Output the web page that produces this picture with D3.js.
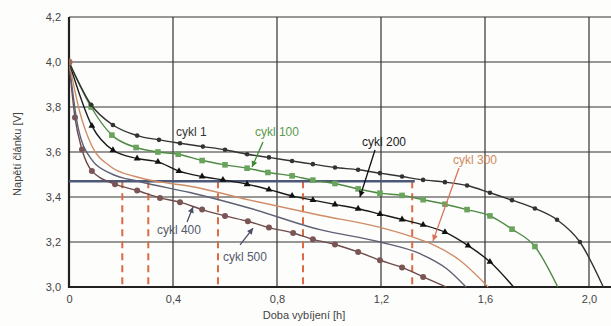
<!DOCTYPE html>
<html><head><meta charset="utf-8">
<script src="https://cdn.jsdelivr.net/npm/d3@7"></script>
<style>body{margin:0;background:#fff}svg{display:block}text{font-family:"Liberation Sans",Arial,sans-serif}</style>
</head><body><div id="chart"></div>
<script>
// ---- data ----
const xTicks = [0, 0.4, 0.8, 1.2, 1.6, 2.0];
const yTicks = [3.0, 3.2, 3.4, 3.6, 3.8, 4.0, 4.2];

const c1T = [0, 0.085, 0.169, 0.262, 0.346, 0.427, 0.515, 0.6, 0.685, 0.769, 0.858, 0.938, 1.023, 1.112, 1.196, 1.281, 1.362, 1.446, 1.531, 1.619, 1.704, 1.792, 1.877, 1.965, 2.055];
const c1V = [4.0, 3.81, 3.72, 3.673, 3.654, 3.639, 3.624, 3.61, 3.59, 3.576, 3.56, 3.546, 3.531, 3.521, 3.506, 3.491, 3.476, 3.466, 3.451, 3.419, 3.386, 3.349, 3.299, 3.2, 3.0];

const c100T = [0, 0.085, 0.165, 0.258, 0.342, 0.42, 0.512, 0.6, 0.685, 0.765, 0.858, 0.938, 1.023, 1.112, 1.196, 1.281, 1.362, 1.446, 1.531, 1.619, 1.704, 1.792, 1.88];
const c100V = [4.0, 3.80, 3.675, 3.62, 3.60, 3.59, 3.562, 3.543, 3.528, 3.509, 3.494, 3.475, 3.46, 3.436, 3.417, 3.407, 3.388, 3.368, 3.344, 3.316, 3.257, 3.18, 3.0];

const c200T = [0, 0.088, 0.169, 0.262, 0.342, 0.423, 0.512, 0.592, 0.685, 0.769, 0.858, 0.938, 1.023, 1.112, 1.196, 1.281, 1.362, 1.446, 1.535, 1.619, 1.71];
const c200V = [4.0, 3.716, 3.608, 3.571, 3.556, 3.515, 3.491, 3.476, 3.457, 3.433, 3.405, 3.386, 3.367, 3.348, 3.324, 3.3, 3.276, 3.244, 3.184, 3.112, 3.0];

const c300T = [0, 0.042, 0.088, 0.158, 0.254, 0.35, 0.465, 0.696, 0.965, 1.196, 1.323, 1.4, 1.504, 1.612];
const c300V = [4.0, 3.775, 3.627, 3.537, 3.491, 3.467, 3.448, 3.386, 3.319, 3.265, 3.222, 3.188, 3.118, 3.0];

const c400T = [0, 0.035, 0.088, 0.158, 0.273, 0.465, 0.696, 0.965, 1.196, 1.35, 1.454, 1.527];
const c400V = [4.0, 3.709, 3.565, 3.506, 3.468, 3.42, 3.35, 3.255, 3.2, 3.148, 3.08, 3.0];

const c500T = [0, 0.023, 0.05, 0.088, 0.177, 0.262, 0.35, 0.427, 0.512, 0.6, 0.688, 0.769, 0.862, 0.938, 1.023, 1.112, 1.196, 1.281, 1.362, 1.45];
const c500V = [4.0, 3.753, 3.611, 3.516, 3.457, 3.429, 3.396, 3.377, 3.344, 3.316, 3.292, 3.264, 3.24, 3.212, 3.189, 3.156, 3.119, 3.087, 3.045, 3.0];

const refLevel = 3.47;          // thick horizontal line
const refEnd = 1.33;
const dashT = [0.205, 0.305, 0.573, 0.9, 1.32];

const labels = ["cykl 1", "cykl 100", "cykl 200", "cykl 300", "cykl 400", "cykl 500"];
const labelPos = [[0.412, 3.671], [0.715, 3.671], [1.127, 3.627], [1.477, 3.547], [0.338, 3.236], [0.592, 3.116]];
const arrowFrom = [null, [0.746, 3.644], [1.177, 3.609], [1.5, 3.529], [0.454, 3.289], [0.658, 3.187]];
const arrowTo   = [null, [0.704, 3.533], [1.119, 3.40], [1.40, 3.205], [0.477, 3.356], [0.708, 3.262]];

// ---- chart ----
const W = 611, H = 326;
const L = 69, R = 611, T = 17, B = 287;
const x = d3.scaleLinear().domain([0, 2.0]).range([L, 589]);
const y = d3.scaleLinear().domain([3.0, 4.2]).range([B, T]);

const svg = d3.select("#chart").append("svg").attr("width", W).attr("height", H);
svg.append("rect").attr("width", W).attr("height", H).attr("fill", "#fdfdfc");

svg.append("clipPath").attr("id", "clip").append("rect")
  .attr("x", L).attr("y", T - 2).attr("width", R - L).attr("height", B - T + 4);

const grid = svg.append("g");
grid.selectAll("line.h").data(yTicks).join("line")
  .attr("x1", L).attr("x2", R).attr("y1", d => y(d)).attr("y2", d => y(d))
  .attr("stroke", "#333").attr("stroke-width", 1.2);
grid.selectAll("line.v").data(xTicks.slice(1)).join("line")
  .attr("x1", d => x(d)).attr("x2", d => x(d)).attr("y1", T).attr("y2", B)
  .attr("stroke", "#333").attr("stroke-width", 1.2);

const fmt = d => d === 0 ? "0" : d3.format(".1f")(d).replace(".", ",");
const xAxis = svg.append("g").attr("transform", `translate(0,${B})`)
  .call(d3.axisBottom(x).tickValues(xTicks).tickFormat(fmt).tickSize(0).tickPadding(8));
const yAxis = svg.append("g").attr("transform", `translate(${L},0)`)
  .call(d3.axisLeft(y).tickValues(yTicks).tickFormat(d => d3.format(".1f")(d).replace(".", ",")).tickSize(0).tickPadding(8));
[xAxis, yAxis].forEach(a => {
  a.select(".domain").remove();
  a.selectAll("text").attr("font-size", 11).attr("fill", "#444");
});
svg.append("line").attr("x1", L).attr("x2", L).attr("y1", T).attr("y2", B + 1)
  .attr("stroke", "#222").attr("stroke-width", 2.2);
svg.append("line").attr("x1", L - 1).attr("x2", R).attr("y1", B).attr("y2", B)
  .attr("stroke", "#222").attr("stroke-width", 2.2);

svg.append("text").attr("x", 304).attr("y", 319).attr("text-anchor", "middle")
  .attr("font-size", 11).attr("fill", "#444").text("Doba vybíjení [h]");
svg.append("text").attr("transform", `translate(21,${154}) rotate(-90)`).attr("text-anchor", "middle")
  .attr("font-size", 11).attr("fill", "#444").text("Napětí článku [V]");

const plot = svg.append("g").attr("clip-path", "url(#clip)");

plot.selectAll("line.dash").data(dashT).join("line")
  .attr("x1", d => x(d)).attr("x2", d => x(d)).attr("y1", y(refLevel)).attr("y2", B)
  .attr("stroke", "#dd6a44").attr("stroke-width", 2).attr("stroke-dasharray", "7,5");
plot.append("line").attr("x1", x(0)).attr("x2", x(refEnd)).attr("y1", y(refLevel)).attr("y2", y(refLevel))
  .attr("stroke", "#4c5878").attr("stroke-width", 2.6);

const series = [
  {T: c500T, V: c500V, color: "#6e4b4b", w: 1.4, mark: "circle", ms: 3},
  {T: c400T, V: c400V, color: "#5e6074", w: 1.4, mark: null},
  {T: c300T, V: c300V, color: "#cf8c66", w: 1.4, mark: null},
  {T: c200T, V: c200V, color: "#1a1a1a", w: 1.4, mark: "triangle", ms: 3},
  {T: c100T, V: c100V, color: "#4f8a45", w: 1.4, mark: "square", ms: 2.8},
  {T: c1T, V: c1V, color: "#333", w: 1.4, mark: "dot", ms: 2.3},
];
const line = d3.line().x(d => x(d[0])).y(d => y(d[1])).curve(d3.curveMonotoneX);

series.forEach(s => {
  const pts = s.T.map((t, i) => [t, s.V[i]]);
  plot.append("path").attr("d", line(pts)).attr("fill", "none")
    .attr("stroke", s.color).attr("stroke-width", s.w);
  if (!s.mark) return;
  const mp = pts.slice(1, -1);
  const g = plot.append("g");
  if (s.mark === "circle" || s.mark === "dot") {
    g.selectAll("circle").data(mp).join("circle")
      .attr("cx", d => x(d[0])).attr("cy", d => y(d[1])).attr("r", s.ms)
      .attr("fill", s.mark === "circle" ? "#7a5555" : "#333");
  } else if (s.mark === "square") {
    g.selectAll("rect").data(mp).join("rect")
      .attr("x", d => x(d[0]) - s.ms).attr("y", d => y(d[1]) - s.ms)
      .attr("width", 2 * s.ms).attr("height", 2 * s.ms).attr("fill", "#6aa35c");
  } else {
    g.selectAll("path").data(mp).join("path")
      .attr("d", d3.symbol(d3.symbolTriangle, 20)())
      .attr("transform", d => `translate(${x(d[0])},${y(d[1])})`).attr("fill", "#111");
  }
});
plot.append("circle").attr("cx", x(0)).attr("cy", y(4.0)).attr("r", 3.5).attr("fill", "#a06a5a");

const labelColors = ["#333", "#5c9a4e", "#222", "#d08a5e", "#555a6c", "#555a6c"];
labels.forEach((lab, i) => {
  const p = labelPos[i];
  svg.append("text").attr("x", x(p[0])).attr("y", y(p[1])).attr("font-size", 12)
    .attr("fill", labelColors[i]).text(lab);
  if (!arrowFrom[i]) return;
  const a = arrowFrom[i], b = arrowTo[i];
  const x1 = x(a[0]), y1 = y(a[1]), x2 = x(b[0]), y2 = y(b[1]);
  const col = i === 1 ? "#3f8a35" : i === 3 ? "#d9745a" : i === 2 ? "#111" : "#4a4e66";
  svg.append("line").attr("x1", x1).attr("y1", y1).attr("x2", x2).attr("y2", y2)
    .attr("stroke", col).attr("stroke-width", 1.3);
  const ang = Math.atan2(y2 - y1, x2 - x1);
  const hl = 6, hw = 3;
  const p1 = [x2 - hl * Math.cos(ang) + hw * Math.sin(ang), y2 - hl * Math.sin(ang) - hw * Math.cos(ang)];
  const p2 = [x2 - hl * Math.cos(ang) - hw * Math.sin(ang), y2 - hl * Math.sin(ang) + hw * Math.cos(ang)];
  svg.append("path").attr("d", `M${x2},${y2}L${p1}L${p2}Z`).attr("fill", col);
});
</script></body></html>
